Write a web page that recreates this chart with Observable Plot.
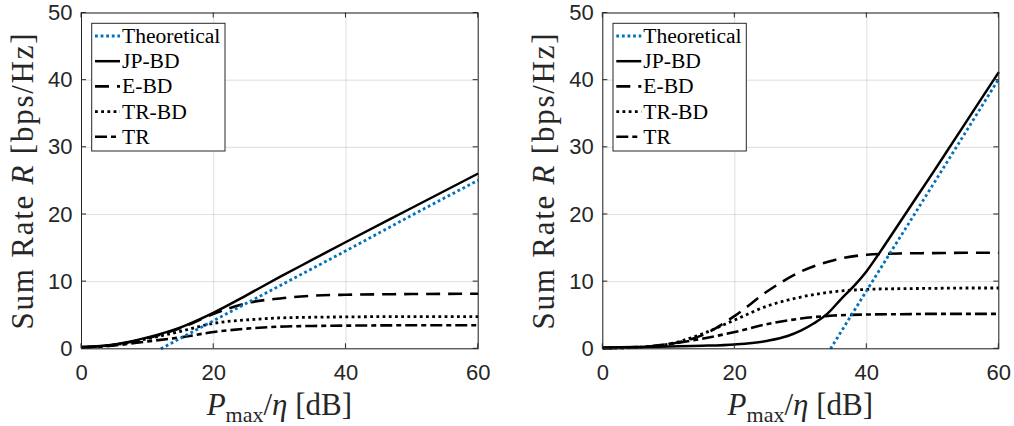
<!DOCTYPE html>
<html><head><meta charset="utf-8">
<script src="https://cdn.jsdelivr.net/npm/d3@7"></script>
<script src="https://cdn.jsdelivr.net/npm/@observablehq/plot@0.6"></script>
<style>
body{margin:0;background:#fff;}
#wrap{display:flex;width:1014px;height:426px;overflow:hidden;}
</style></head><body><div id="wrap"></div>
<script>
// ---- tick labels ----
const xTicks = [0, 20, 40, 60];
const yTicks = [0, 10, 20, 30, 40, 50];
const seriesNames = ["Theoretical", "JP-BD", "E-BD", "TR-BD", "TR"];

// ---- left panel data ----
const leftTheoX = [12, 20, 30, 40, 50, 60];
const leftTheo  = [0, 4.2, 9.4, 14.6, 19.9, 25.1];
const leftX     = [0, 5, 10, 15, 20, 25, 30, 35, 40, 50, 60];
const leftJP    = [0.25, 0.65, 1.7, 3.2, 5.4, 8.0, 10.7, 13.3, 15.9, 21.0, 26.1];
const leftEBD   = [0.25, 0.6, 1.6, 3.1, 5.2, 6.8, 7.5, 7.9, 8.05, 8.15, 8.2];
const leftTRBD  = [0.2, 0.6, 1.5, 2.6, 3.8, 4.3, 4.6, 4.7, 4.75, 4.8, 4.8];
const leftTR    = [0.15, 0.5, 1.1, 1.7, 2.5, 3.0, 3.3, 3.4, 3.45, 3.5, 3.5];

// ---- right panel data ----
const rightTheoX = [34.5, 40, 50, 60];
const rightTheo  = [0, 8.7, 24.4, 40.2];
const rightJPX   = [0, 5, 10, 15, 20, 25, 28, 30, 32, 34, 36, 38, 40, 42, 46, 50, 53, 56, 60];
const rightJP    = [0.2, 0.25, 0.35, 0.45, 0.65, 1.2, 1.9, 2.7, 3.8, 5.2, 7.3, 9.3, 11.6, 14.4, 20.3, 26.2, 30.7, 35.2, 41.2];
const rightX     = [0, 5, 10, 15, 20, 25, 30, 35, 40, 45, 50, 55, 60];
const rightEBD   = [0.1, 0.25, 0.7, 2.0, 4.9, 8.6, 11.5, 13.2, 14.0, 14.2, 14.25, 14.3, 14.3];
const rightTRBD  = [0.1, 0.2, 0.7, 2.2, 4.3, 6.4, 7.7, 8.5, 8.85, 8.95, 9.0, 9.05, 9.05];
const rightTR    = [0.1, 0.2, 0.7, 1.5, 2.5, 3.7, 4.5, 4.95, 5.1, 5.15, 5.2, 5.2, 5.2];

const styles = {
  "Theoretical": {stroke: "#0072BD", dash: "2.8,2.8", width: 2.8},
  "JP-BD": {stroke: "#000", dash: null, width: 2.5},
  "E-BD": {stroke: "#000", dash: "14,8", width: 2.6},
  "TR-BD": {stroke: "#000", dash: "2.8,3.4", width: 2.8},
  "TR": {stroke: "#000", dash: "12,4,5,4", width: 2.6}
};

function toRows(xs, ys) { return xs.map((x, i) => ({x, y: ys[i]})); }

function panel(series, mL, mR) {
  const W = 507, H = 426, mT = 12.5, mB = 77.7;
  const lineMarks = seriesNames.map(n => Plot.line(series[n], {
    x: "x", y: "y", stroke: styles[n].stroke, strokeWidth: styles[n].width,
    strokeDasharray: styles[n].dash || undefined, strokeLinecap: "butt",
    strokeLinejoin: "round", curve: "monotone-x"
  }));
  const p = Plot.plot({
    width: W, height: H, marginLeft: mL, marginRight: mR, marginTop: mT, marginBottom: mB,
    x: {domain: [0, 60]}, y: {domain: [0, 50]},
    style: {background: "#fff", fontFamily: "Liberation Sans", overflow: "visible"},
    marks: [
      Plot.gridX(xTicks, {stroke: "#262626", strokeOpacity: 0.15, strokeWidth: 1}),
      Plot.gridY(yTicks, {stroke: "#262626", strokeOpacity: 0.15, strokeWidth: 1}),
      ...lineMarks.slice(1), lineMarks[0],
      Plot.frame({stroke: "#262626", strokeWidth: 1}),
      Plot.axisX(xTicks, {tickSize: 0, tickPadding: 16, fontSize: 22, color: "#262626", label: null}),
      Plot.axisY(yTicks, {tickSize: 0, tickPadding: 9, fontSize: 22, color: "#262626", label: null})
    ]
  });
  const svg = d3.select(p);
  const sx = p.scale("x"), sy = p.scale("y");
  const x0 = sx.apply(0), x1 = sx.apply(60), y0 = sy.apply(0), y1 = sy.apply(50);
  const tk = svg.append("g").attr("stroke", "#262626").attr("stroke-width", 1);
  xTicks.forEach(v => {
    const X = sx.apply(v);
    tk.append("line").attr("x1", X).attr("x2", X).attr("y1", y0).attr("y2", y0 - 5);
    tk.append("line").attr("x1", X).attr("x2", X).attr("y1", y1).attr("y2", y1 + 5);
  });
  yTicks.forEach(v => {
    const Y = sy.apply(v);
    tk.append("line").attr("x1", x0).attr("x2", x0 + 5).attr("y1", Y).attr("y2", Y);
    tk.append("line").attr("x1", x1).attr("x2", x1 - 5).attr("y1", Y).attr("y2", Y);
  });
  // y label
  const yl = svg.append("text")
    .attr("transform", `translate(${x0 - 48},${(y0 + y1) / 2 + 1}) rotate(-90)`)
    .attr("text-anchor", "middle").attr("font-family", "Liberation Serif")
    .attr("font-size", 31).attr("fill", "#262626")
    .attr("textLength", 296).attr("lengthAdjust", "spacing");
  yl.append("tspan").text("Sum Rate ");
  yl.append("tspan").attr("font-style", "italic").text("R");
  yl.append("tspan").text(" [bps/Hz]");
  // x label
  const xl = svg.append("text")
    .attr("x", (x0 + x1) / 2).attr("y", 415)
    .attr("text-anchor", "middle").attr("font-family", "Liberation Serif")
    .attr("font-size", 31).attr("fill", "#262626");
  xl.append("tspan").attr("font-style", "italic").text("P");
  xl.append("tspan").attr("font-size", 22).attr("dy", 7).text("max");
  xl.append("tspan").attr("dy", -7).text("/");
  xl.append("tspan").attr("font-style", "italic").text("η");
  xl.append("tspan").text(" [dB]");
  // legend
  const lg = svg.append("g").attr("transform", `translate(${x0 + 10.7},23.3)`);
  lg.append("rect").attr("width", 133.3).attr("height", 127.7)
    .attr("fill", "#fff").attr("stroke", "#262626").attr("stroke-width", 1);
  seriesNames.forEach((n, i) => {
    const cy = 12.7 + i * 25.2;
    const ln = lg.append("line").attr("x1", 3.3).attr("x2", 28.3).attr("y1", cy).attr("y2", cy)
      .attr("stroke", styles[n].stroke).attr("stroke-width", styles[n].width).attr("stroke-linecap", "butt");
    if (styles[n].dash) ln.attr("stroke-dasharray", styles[n].dash);
    lg.append("text").attr("x", 30.3).attr("y", cy + 7)
      .attr("text-anchor", "start")
      .attr("font-family", "Liberation Serif").attr("font-size", 21.6).attr("fill", "#000")
      .text(n);
  });
  return p;
}

const wrap = document.getElementById("wrap");
wrap.appendChild(panel({
  "Theoretical": toRows(leftTheoX, leftTheo),
  "JP-BD": toRows(leftX, leftJP),
  "E-BD": toRows(leftX, leftEBD),
  "TR-BD": toRows(leftX, leftTRBD),
  "TR": toRows(leftX, leftTR)
}, 81, 29.3));
wrap.appendChild(panel({
  "Theoretical": toRows(rightTheoX, rightTheo),
  "JP-BD": toRows(rightJPX, rightJP),
  "E-BD": toRows(rightX, rightEBD),
  "TR-BD": toRows(rightX, rightTRBD),
  "TR": toRows(rightX, rightTR)
}, 95.3, 15.7));
</script></body></html>
